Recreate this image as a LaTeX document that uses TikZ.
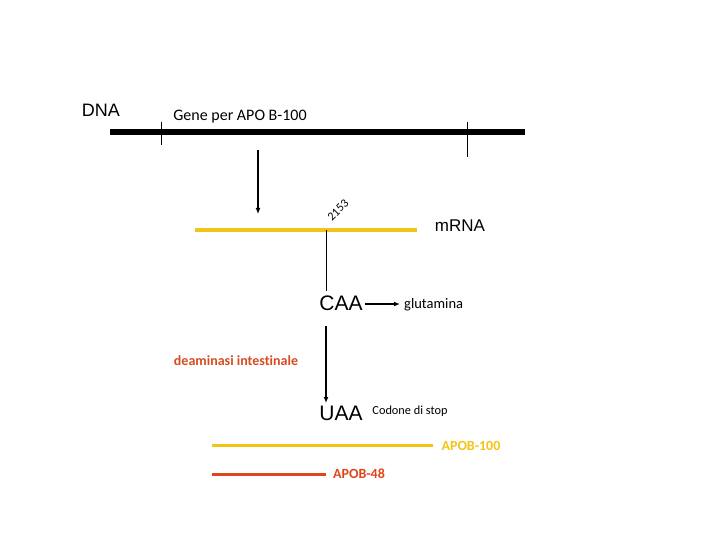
\documentclass[tikz,border=0pt]{standalone}
\usepackage{fontspec}
\setmainfont[Ligatures=NoCommon]{Carlito}
\newfontfamily\arialf{Liberation Sans}
\usetikzlibrary{arrows.meta}
\definecolor{ylw}{RGB}{242,196,23}
\definecolor{redo}{RGB}{226,68,26}
\definecolor{deam}{RGB}{214,76,32}
\begin{document}
\begin{tikzpicture}[x=1pt,y=-1pt,
  arial/.style={font=\arialf, inner sep=0pt, anchor=center},
  cal/.style={inner sep=0pt, anchor=center},
  tick/.style={line width=0.8pt},
  arr/.style={line width=1.3pt,-{Latex[length=6pt,width=5pt]}},
  lbl/.style={line width=0.8pt}]
\useasboundingbox (0,0) rectangle (720,540);
% DNA
\node[arial,font=\arialf\fontsize{18}{21}\selectfont] (dna) at (101,110) {DNA};
\node[cal,font=\fontsize{16}{18}\selectfont] (gene) at (240,117) {Gene per APO B-100};
\coordinate (dnaL) at (110,132);
\coordinate (dnaR) at (525,132);
\draw[line width=6pt] (dnaL) -- (dnaR);
\coordinate (t1a) at (161,122); \coordinate (t1b) at (161,145);
\coordinate (t2a) at (467,122); \coordinate (t2b) at (467,157);
\draw[tick] (t1a) -- (t1b);
\draw[tick] (t2a) -- (t2b);
\coordinate (a1s) at (258,150); \coordinate (a1e) at (258,214);
\draw[arr] (a1s) -- (a1e);
% mRNA
\coordinate (mL) at (195,230); \coordinate (mR) at (417,230);
\draw[ylw,line width=3.5pt] (mL) -- (mR);
\node[arial,font=\arialf\fontsize{17}{20}\selectfont] (mrna) at (460,226) {mRNA};
\node[cal,rotate=45,font=\fontsize{12}{14}\selectfont] (pos) at (338,210) {2153};
\coordinate (m0) at (326,230);
% CAA
\node[arial,font=\arialf\fontsize{21}{24}\selectfont] (caa) at (341,303) {CAA};
\coordinate (cb) at (326,291);
\draw[lbl] (m0) -- (cb);
\node[cal,font=\fontsize{14.5}{17}\selectfont,anchor=west] (glu) at (404,305) {glutamina};
\coordinate (g1) at (365,304); \coordinate (g2) at (400,304);
\draw[arr] (g1) -- (g2);
\node[cal,font=\bfseries\fontsize{14}{16}\selectfont,text=deam] (deam) at (236,361) {deaminasi intestinale};
\node[arial,font=\arialf\fontsize{21}{24}\selectfont] (uaa) at (341,413) {UAA};
\coordinate (a2s) at (326,326); \coordinate (a2e) at (326,403);
\draw[arr] (a2s) -- (a2e);
\node[cal,font=\fontsize{12.3}{14}\selectfont] (stop) at (410,411) {Codone di stop};
% products
\coordinate (p1L) at (212,445); \coordinate (p1R) at (433,445);
\draw[ylw,line width=3pt] (p1L) -- (p1R);
\node[cal,font=\bfseries\fontsize{14}{16}\selectfont,text=ylw] (apo100) at (471,446) {APOB-100};
\coordinate (p2L) at (212,474); \coordinate (p2R) at (326,474);
\draw[redo,line width=3pt] (p2L) -- (p2R);
\node[cal,font=\bfseries\fontsize{14}{16}\selectfont,text=redo] (apo48) at (359,474) {APOB-48};
\end{tikzpicture}
\end{document}
